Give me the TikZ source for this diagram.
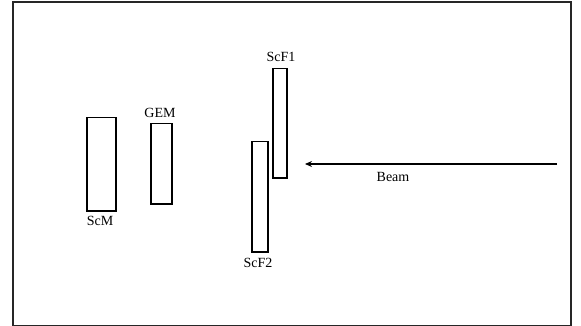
\documentclass[tikz,border=0pt]{standalone}
\usepackage{fontspec}
\setmainfont{Liberation Serif}
\usetikzlibrary{arrows.meta}
\begin{document}
\begin{tikzpicture}[x=1pt,y=-1pt,
  det/.style={draw=black,line width=1.5pt,inner sep=0pt,anchor=north west},
  lab/.style={font=\fontsize{14}{16}\selectfont,inner sep=0pt}]
\useasboundingbox (0,0) rectangle (581,326);
\fill[white] (0,0) rectangle (581,326);
\node[draw=black!85,line width=2pt,inner sep=0pt,minimum width=558pt,minimum height=323pt,anchor=north west] (frame) at (12,1.5) {};
\node[det,minimum width=29pt,minimum height=93pt] (scm) at (86,117) {};
\node[det,minimum width=21pt,minimum height=80pt] (gem) at (150,123) {};
\node[det,minimum width=14pt,minimum height=109pt] (scf1) at (272,68) {};
\node[det,minimum width=16pt,minimum height=110pt] (scf2) at (251,141) {};
\node[lab] (lscm) at (100,221) {ScM};
\node[lab] (lgem) at (160,113) {GEM};
\node[lab] (lscf1) at (281,57) {ScF1};
\node[lab] (lscf2) at (258,263) {ScF2};
\coordinate (bs) at (557,164);
\coordinate (be) at (305,164);
\draw[line width=1.4pt,-{Stealth[length=7pt,width=6pt]}] (bs) -- (be);
\node[lab] (lbeam) at (393,177) {Beam};
\end{tikzpicture}
\end{document}
